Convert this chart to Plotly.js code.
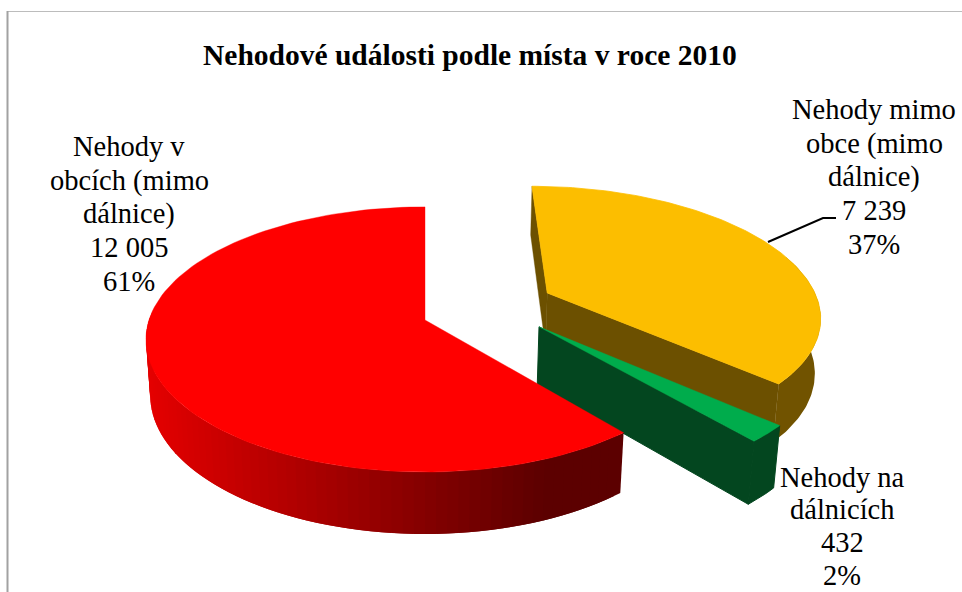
<!DOCTYPE html>
<html lang="cs">
<head>
<meta charset="utf-8">
<title>Nehodové události podle místa v roce 2010</title>
<script src="https://cdn.plot.ly/plotly-3.0.1.min.js"></script>
<style>html,body{margin:0;padding:0;background:#fff}#chart{width:962px;height:592px}</style>
</head>
<body>
<div id="chart"></div>
<script>
// Accident counts by location, 2010
const categories = ["Nehody mimo obce (mimo dálnice)", "Nehody na dálnicích", "Nehody v obcích (mimo dálnice)"];
const labelLines = [
  ["Nehody mimo", "obce (mimo", "dálnice)"],
  ["Nehody na", "dálnicích"],
  ["Nehody v", "obcích (mimo", "dálnice)"]
];
const values = [7239, 432, 12005];
const topColors = ["#fcbe00", "#00ac4c", "#ff0000"];
const wallColors = ["#6c5000", "#03461f", null];
const chartTitle = "Nehodové události podle místa v roce 2010";

// Slice displacement on the disc plane, in disc radii
const shiftU = [0.457, 0.41, 0];
const shiftV = [0.215, -0.052, 0];
// Wall height of each slice, relative to the disc thickness
const wallDepth = [1, 1.04, 1];

// Label anchors in pixels: centre x, first line centre y, line gap
const labelCenterX = [874, 842, 129];
const labelFirstY = [110, 477, 147];
const labelGap = [33.6, 32.7, 33.6];

// Perspective of the tilted disc
const PERSP = 0.147, DEPTH = 0.015, TILT = 0.47, THICK = 0.203;
const RADIUS_PX = 276, CENTER_X = 425, CENTER_Y = 320, W = 962, H = 592;

function project(i, deg, r, z) {
  const t = deg * Math.PI / 180;
  const u = shiftU[i] + r * Math.sin(t), v = shiftV[i] + r * Math.cos(t);
  const d = 1 + PERSP * v + DEPTH * z;
  return [u / d, (TILT * v - THICK * z) / d];
}

function poly(points, color, width) {
  return {
    type: "scatter", mode: "lines", fill: "toself", fillcolor: color,
    x: points.map(p => p[0]), y: points.map(p => p[1]),
    line: {color: color, width: width === undefined ? 0.4 : width}, hoverinfo: "skip", showlegend: false
  };
}

function rimWall(i, from, to) {
  const pts = [];
  const n = Math.max(1, Math.ceil(Math.abs(to - from)));
  for (let k = 0; k <= n; k++) pts.push(project(i, from + (to - from) * k / n, 1, 0));
  for (let k = n; k >= 0; k--) pts.push(project(i, from + (to - from) * k / n, 1, wallDepth[i]));
  pts.push(pts[0]);
  return pts;
}

function radialWall(i, deg) {
  const a = project(i, deg, 0, 0), b = project(i, deg, 1, 0);
  const c = project(i, deg, 1, wallDepth[i]), e = project(i, deg, 0, wallDepth[i]);
  return [a, b, c, e, a];
}

function topFace(i, from, to) {
  const pts = [project(i, from, 0, 0)];
  for (let k = 0; k <= 120; k++) pts.push(project(i, from + (to - from) * k / 120, 1, 0));
  pts.push(project(i, from, 0, 0));
  return pts;
}

// Shading of the red rim runs left to right across the screen
function redShade(xAxis) {
  const px = CENTER_X + xAxis * RADIUS_PX;
  const level = Math.max(92, Math.min(228, 228 - (px - 150) * (136 / 406)));
  return "rgb(" + Math.round(level) + ",0,0)";
}

const total = values.reduce((s, n) => s + n, 0);
const traces = [];
let start = 0;
const spans = values.map(n => {
  const span = n / total * 360;
  const s = [start, start + span];
  start += span;
  return s;
});

// Back to front: yellow, green, red
const [y0, y1] = spans[0];
traces.push(poly(radialWall(0, y0), wallColors[0]));
traces.push(poly(radialWall(0, y1), wallColors[0]));
traces.push(poly(rimWall(0, 72, y1), "#715300", 0));
traces.push(poly(topFace(0, y0, y1), topColors[0], 0.8));

const [g0, g1] = spans[1];
traces.push(poly(radialWall(1, g1), wallColors[1], 1));
traces.push(poly(rimWall(1, g0, g1), wallColors[1], 1));
traces.push(poly(topFace(1, g0, g1), topColors[1]));

// Red rim: stripes painted from the far left end so each one overlaps its neighbour
const [r0, r1] = spans[2];
const redStep = 2;
for (let a = 272; a > r0; a -= redStep) {
  const from = Math.max(a - redStep, r0);
  traces.push(poly(rimWall(2, from, a + redStep), redShade(project(2, (from + a) / 2, 1, 0)[0]), 0));
}
traces.push(poly(topFace(2, r0, r1), topColors[2]));

function thousands(n) {
  return String(n).replace(/\B(?=(\d{3})+$)/g, " ");
}
function labelRows(i) {
  return labelLines[i].concat([thousands(values[i]), Math.round(values[i] / total * 100) + "%"]);
}
const serif = "'Liberation Serif','Times New Roman',serif";
function note(text, cx, cy, size, bold) {
  return {
    xref: "paper", yref: "paper", x: cx / W, y: 1 - cy / H,
    xanchor: "center", yanchor: "middle", align: "center", showarrow: false,
    text: bold ? "<b>" + text + "</b>" : text,
    font: {family: serif, size: size, color: "#000"}
  };
}

const annotations = [note(chartTitle, 470, 54.5, 29.5, true)];
labelLines.forEach((_, i) => {
  labelRows(i).forEach((row, k) => {
    annotations.push(note(row, labelCenterX[i], labelFirstY[i] + k * labelGap[i], 28.5, false));
  });
});

const layout = {
  width: W, height: H,
  margin: {l: 0, r: 0, t: 0, b: 0, pad: 0},
  paper_bgcolor: "#fff", plot_bgcolor: "#fff",
  showlegend: false, hovermode: false,
  xaxis: {visible: false, fixedrange: true, range: [-CENTER_X / RADIUS_PX, (W - CENTER_X) / RADIUS_PX]},
  yaxis: {visible: false, fixedrange: true, range: [(CENTER_Y - H) / RADIUS_PX, CENTER_Y / RADIUS_PX]},
  annotations: annotations,
  shapes: [
    {type: "line", xref: "paper", yref: "paper", x0: 7 / W, x1: 1, y0: 1 - 11.5 / H, y1: 1 - 11.5 / H, line: {color: "#bcbcbc", width: 1}},
    {type: "line", xref: "paper", yref: "paper", x0: 7.5 / W, x1: 7.5 / W, y0: 1 - 11 / H, y1: 0, line: {color: "#a2a2a2", width: 2}},
    {type: "path", xref: "paper", yref: "paper",
     path: "M " + 768 / W + " " + (1 - 242 / H) + " L " + 823 / W + " " + (1 - 218 / H) + " L " + 836 / W + " " + (1 - 218 / H),
     line: {color: "#000", width: 2}}
  ]
};

Plotly.newPlot("chart", traces, layout, {displayModeBar: false, staticPlot: true});
</script>
</body>
</html>
